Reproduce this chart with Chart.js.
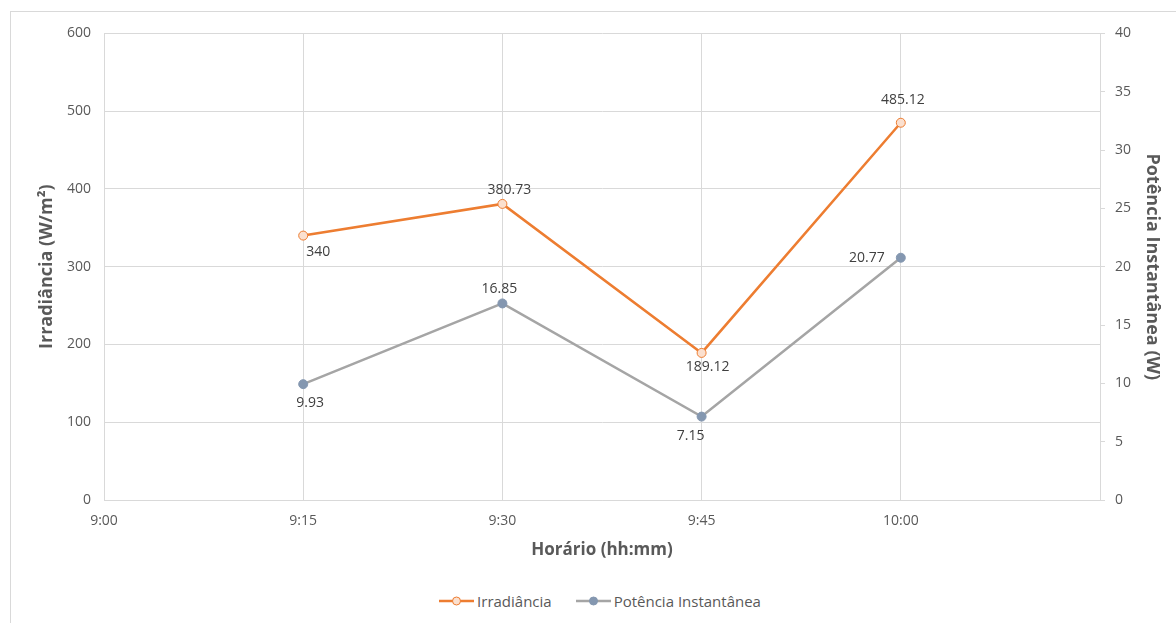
<!DOCTYPE html>
<html>
<head>
<meta charset="utf-8">
<script src="https://cdn.jsdelivr.net/npm/chart.js@4"></script>
<style>
  body { margin:0; background:#fff; font-family:"Open Sans", sans-serif; }
  #frame { position:absolute; left:10px; top:11px; width:1166px; height:612px; border:1px solid #d9d9d9; border-right:none; border-bottom:none; box-sizing:border-box; }
  #wrap { position:absolute; left:0; top:0; }
  #legend { position:absolute; left:6px; width:1166px; top:579px; display:flex; justify-content:center; gap:24px; font-size:15px; color:#595959; }
  #legend span { display:flex; align-items:center; gap:3px; }
</style>
</head>
<body>
<div id="frame">
  <div id="wrap"><canvas id="chart" width="1165" height="563"></canvas></div>
  <div id="legend"></div>
</div>
<script>
// ====== Irradiância x Potência chart ======
const times = [15, 30, 45, 60];            // minutes after 9:00
const irradiancia = [340, 380.73, 189.12, 485.12];
const potencia = [9.93, 16.85, 7.15, 20.77];
const xTickLabels = ["9:00", "9:15", "9:30", "9:45", "10:00"];

const orange = "#ED7D31";
const grey = "#A5A5A5";
const blueGrey = "#8497B0";
const textColor = "#595959";
const gridColor = "#d9d9d9";

// simple data label plugin (offsets per point)
const pointLabels = {
  id: "pointLabels",
  afterDatasetsDraw(chart) {
    const ctx = chart.ctx;
    ctx.save();
    ctx.font = "14px 'Open Sans'";
    ctx.fillStyle = "#404040";
    ctx.textAlign = "center";
    ctx.textBaseline = "middle";
    chart.data.datasets.forEach((ds, i) => {
      const meta = chart.getDatasetMeta(i);
      meta.data.forEach((pt, j) => {
        const off = ds.labelOffset[j];
        ctx.fillText(String(ds.data[j].y), pt.x + off[0], pt.y + off[1]);
      });
    });
    ctx.restore();
  }
};

const tickFont = { family: "Open Sans", size: 14 };
const titleFont = { family: "Open Sans", size: 18, weight: "bold" };

const chart = new Chart(document.getElementById("chart"), {
  type: "line",
  data: {
    datasets: [
      {
        label: "Irradiância",
        data: times.map((t, i) => ({ x: t, y: irradiancia[i] })),
        yAxisID: "y",
        borderColor: orange,
        borderWidth: 2.5,
        pointRadius: 4.5,
        pointBackgroundColor: "#FBE0CF",
        pointBorderColor: orange,
        pointBorderWidth: 1,
        labelOffset: [[15, 16], [7, -14], [6, 14], [2, -23]]
      },
      {
        label: "Potência Instantânea",
        data: times.map((t, i) => ({ x: t, y: potencia[i] })),
        yAxisID: "y1",
        borderColor: grey,
        borderWidth: 2.5,
        pointRadius: 4.5,
        pointBackgroundColor: blueGrey,
        pointBorderColor: blueGrey,
        pointBorderWidth: 1,
        labelOffset: [[7, 19], [-3, -14], [-11, 19], [-34, 0]]
      }
    ]
  },
  options: {
    responsive: false,
    animation: false,
    layout: { padding: { top: 19, left: 0, right: 0, bottom: 0 } },
    plugins: { legend: { display: false }, tooltip: { enabled: false } },
    scales: {
      x: {
        type: "linear",
        min: 0, max: 75,
        afterFit: s => { s.height = 75; },
        ticks: {
          stepSize: 15,
          padding: 13,
          color: textColor,
          font: tickFont,
          callback: (v) => xTickLabels[v / 15] || ""
        },
        grid: { color: gridColor, drawTicks: false },
        border: { color: gridColor },
        title: {
          display: true, text: "Horário (hh:mm)", color: textColor,
          font: { family: "Open Sans", size: 17, weight: "bold" },
          padding: { top: 0, bottom: 15 }
        }
      },
      y: {
        position: "left",
        min: 0, max: 600,
        afterFit: s => { s.width = 93; },
        ticks: { stepSize: 100, padding: 13, color: textColor, font: tickFont },
        grid: { color: gridColor, drawTicks: false },
        border: { color: gridColor },
        title: {
          display: true, text: "Irradiância (W/m²)", color: textColor,
          font: titleFont,
          padding: { top: 25, bottom: 0 }
        }
      },
      y1: {
        position: "right",
        min: 0, max: 40,
        afterFit: s => { s.width = 76; },
        ticks: { stepSize: 5, padding: 10, color: textColor, font: tickFont },
        grid: { drawOnChartArea: false, color: gridColor, tickLength: 5 },
        border: { color: gridColor },
        title: {
          display: true, text: "Potência Instantânea (W)", color: textColor,
          font: titleFont,
          padding: { top: 13, bottom: 0 }
        }
      }
    }
  },
  plugins: [pointLabels]
});

// legend (line + marker icons)
const legend = document.getElementById("legend");
chart.data.datasets.forEach(ds => {
  const item = document.createElement("span");
  item.innerHTML =
    `<svg width="35" height="10"><line x1="0" y1="5" x2="35" y2="5" stroke="${ds.borderColor}" stroke-width="2.5"/>` +
    `<circle cx="17.5" cy="5" r="4" fill="${ds.pointBackgroundColor}" stroke="${ds.pointBorderColor}"/></svg>` +
    ds.label;
  legend.appendChild(item);
});
</script>
</body>
</html>
